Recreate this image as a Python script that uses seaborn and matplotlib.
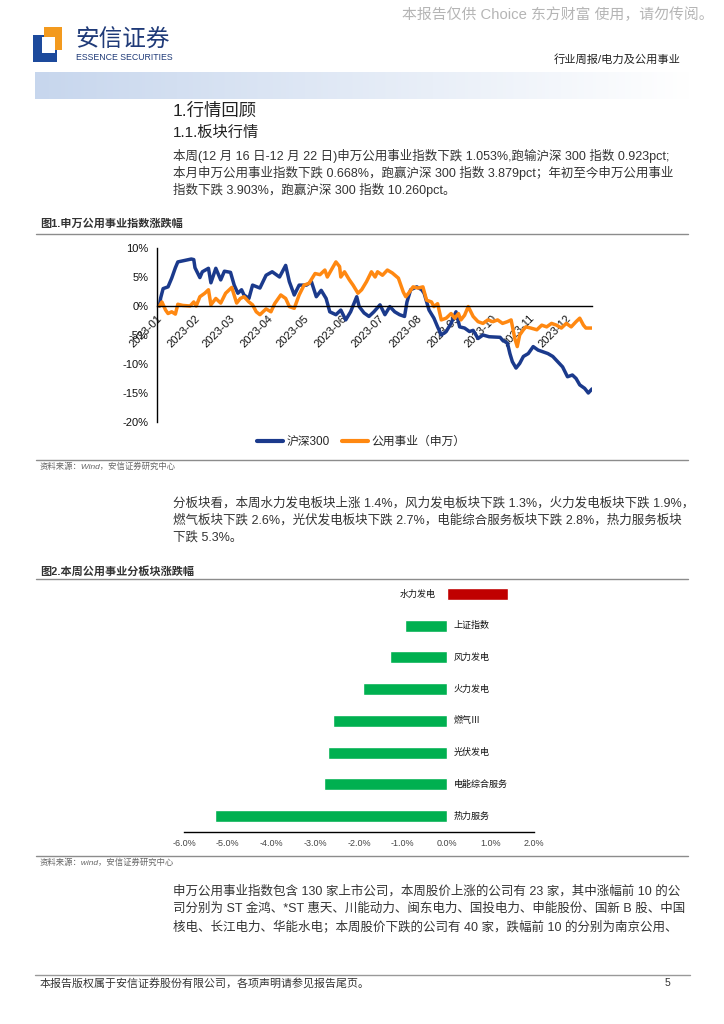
import numpy as np
import pandas as pd
import matplotlib
matplotlib.use("Agg")
import matplotlib.pyplot as plt
from matplotlib.lines import Line2D
from matplotlib.patches import Rectangle
import seaborn as sns

# ---------------- data ----------------
series_names = ["沪深300", "公用事业（申万）"]
series_colors = ["#1b3a8c", "#ff8811"]

hs300_dates = (
    ["01-03", "01-04", "01-06", "01-10", "01-13", "01-16", "01-18", "01-29", "01-31"]
    + ["02-01", "02-05", "02-07", "02-12", "02-14", "02-18", "02-22", "02-25"]
    + ["03-02", "03-05", "03-08", "03-11", "03-13", "03-17", "03-20", "03-26", "03-31"]
    + ["04-05", "04-09", "04-11", "04-16", "04-19", "04-23", "04-27"]
    + ["05-03", "05-07", "05-11", "05-15", "05-19", "05-22", "05-27", "05-31"]
    + ["06-04", "06-08", "06-13", "06-15", "06-19", "06-23", "06-27"]
    + ["07-02", "07-06", "07-10", "07-14", "07-18", "07-22", "07-24", "07-27"]
    + ["08-01", "08-05", "08-07", "08-11", "08-15", "08-18", "08-21", "08-25", "08-29"]
    + ["09-02", "09-05", "09-09", "09-13", "09-16", "09-20", "09-24", "09-29"]
    + ["10-08", "10-10", "10-14", "10-16", "10-18", "10-21", "10-24", "10-27", "10-31"]
    + ["11-04", "11-08", "11-12", "11-16", "11-20", "11-24", "11-28"]
    + ["12-02", "12-06", "12-09", "12-12", "12-16", "12-19", "12-22"]
)
hs300_values = (
    [0.0, 1.4, 3.0, 3.3, 4.8, 6.6, 7.6, 8.1, 8.0]
    + [6.6, 4.9, 5.9, 6.5, 4.0, 6.5, 4.5, 6.0]
    + [5.8, 3.6, 2.2, 2.8, 1.9, 1.3, 3.6, 3.1, 5.3]
    + [5.9, 5.3, 5.0, 7.0, 4.2, 1.9, 3.6]
    + [3.6, 4.2, 1.6, 2.7, 1.3, -1.0, -1.5, -0.7]
    + [-2.4, -1.0, 1.6, -0.1, -1.2, -1.8, -1.0]
    + [0.2, -1.5, -0.1, -1.0, -1.5, -1.8, 0.7, 2.8]
    + [3.3, 2.8, 2.2, -0.7, -2.1, -3.6, -5.0, -4.4, -3.0]
    + [-1.0, -3.6, -3.8, -4.4, -4.2, -5.6, -5.0, -5.3]
    + [-5.4, -5.9, -6.4, -8.2, -9.6, -10.7, -9.9, -8.7, -8.2]
    + [-7.0, -7.6, -7.9, -8.2, -8.7, -9.6, -10.5]
    + [-12.2, -11.9, -12.5, -13.6, -14.2, -15.0, -14.3]
)

util_dates = (
    ["01-03", "01-05", "01-08", "01-10", "01-13", "01-16", "01-18", "01-22", "01-28", "01-31"]
    + ["02-02", "02-05", "02-09", "02-12", "02-14", "02-18", "02-22", "02-26"]
    + ["03-03", "03-07", "03-10", "03-13", "03-17", "03-20", "03-23", "03-26", "03-31"]
    + ["04-04", "04-07", "04-12", "04-16", "04-19", "04-23", "04-27"]
    + ["05-01", "05-05", "05-10", "05-14", "05-18", "05-20", "05-24", "05-27", "05-30", "05-31"]
    + ["06-03", "06-07", "06-10", "06-14", "06-17", "06-21", "06-25", "06-28", "06-30"]
    + ["07-04", "07-08", "07-12", "07-17", "07-21", "07-23", "07-26", "07-29"]
    + ["08-02", "08-06", "08-09", "08-13", "08-15", "08-18", "08-21", "08-25", "08-29"]
    + ["09-01", "09-04", "09-06", "09-09", "09-12", "09-16", "09-20", "09-24", "09-28"]
    + ["10-02", "10-06", "10-10", "10-14", "10-17", "10-20", "10-22", "10-24", "10-27", "10-29"]
    + ["11-02", "11-07", "11-11", "11-15", "11-19", "11-23", "11-27"]
    + ["12-01", "12-05", "12-09", "12-12", "12-15", "12-17", "12-22"]
)
util_values = (
    [0.0, 0.7, -0.7, -1.3, -1.0, -1.4, 0.3, 0.1, 0.0, 0.7]
    + [0.0, 1.6, 2.2, 2.8, 0.2, 1.3, 0.5, 2.2]
    + [3.2, 0.5, 1.3, 1.6, 0.7, 0.2, -1.0, -1.5, -0.5]
    + [-1.0, 0.4, 1.9, 1.3, -0.1, -0.4, 1.9]
    + [3.6, 3.9, 5.6, 5.4, 6.2, 5.0, 6.5, 7.6, 6.8, 5.0]
    + [5.9, 4.5, 3.6, 2.2, 2.8, 4.2, 5.9, 5.0, 5.9]
    + [5.3, 6.2, 5.7, 4.8, 2.4, 1.6, 2.4, 3.3]
    + [3.1, 3.3, 1.0, 0.7, -0.1, 0.4, -2.4, -2.1, -1.3]
    + [-2.1, -1.3, -2.4, -1.6, -0.1, -1.8, -2.7, -3.0, -2.4]
    + [-2.7, -2.4, -3.0, -2.7, -2.4, -5.6, -7.0, -5.0, -4.1, -3.6]
    + [-3.8, -4.1, -3.3, -3.6, -3.0, -3.3, -3.8]
    + [-3.0, -3.6, -2.7, -2.1, -3.3, -3.8, -3.8]
)
line_yticks = [10, 5, 0, -5, -10, -15, -20]
month_ticks = ["2023-01", "2023-02", "2023-03", "2023-04", "2023-05", "2023-06",
               "2023-07", "2023-08", "2023-09", "2023-10", "2023-11", "2023-12"]

sector_names = ["水力发电", "上证指数", "风力发电", "火力发电", "燃气Ⅲ", "光伏发电", "电能综合服务", "热力服务"]
sector_changes = [1.4, -0.95, -1.3, -1.9, -2.6, -2.7, -2.8, -5.3]
bar_xticks = [-6, -5, -4, -3, -2, -1, 0, 1, 2]
up_color, down_color = "#c00000", "#00b050"

# ---------------- text ----------------
watermark = "本报告仅供 Choice 东方财富 使用，请勿传阅。"
company_cn = "安信证券"
company_en = "ESSENCE SECURITIES"
report_type = "行业周报/电力及公用事业"
heading1 = "1.行情回顾"
heading2 = "1.1.板块行情"
para1 = [
    "本周(12 月 16 日-12 月 22 日)申万公用事业指数下跌 1.053%,跑输沪深 300 指数 0.923pct;",
    "本月申万公用事业指数下跌 0.668%，跑赢沪深 300 指数 3.879pct；年初至今申万公用事业",
    "指数下跌 3.903%，跑赢沪深 300 指数 10.260pct。",
]
fig1_title = "图1.申万公用事业指数涨跌幅"
fig1_source = "资料来源：Wind，安信证券研究中心"
para2 = [
    "分板块看，本周水力发电板块上涨 1.4%，风力发电板块下跌 1.3%，火力发电板块下跌 1.9%，",
    "燃气板块下跌 2.6%，光伏发电板块下跌 2.7%，电能综合服务板块下跌 2.8%，热力服务板块",
    "下跌 5.3%。",
]
fig2_title = "图2.本周公用事业分板块涨跌幅"
fig2_source = "资料来源：wind，安信证券研究中心"
para3 = [
    "申万公用事业指数包含 130 家上市公司，本周股价上涨的公司有 23 家，其中涨幅前 10 的公",
    "司分别为 ST 金鸿、*ST 惠天、川能动力、闽东电力、国投电力、申能股份、国新 B 股、中国",
    "核电、长江电力、华能水电；本周股价下跌的公司有 40 家，跌幅前 10 的分别为南京公用、",
]
footer = "本报告版权属于安信证券股份有限公司，各项声明请参见报告尾页。"
page_no = "5"

# ---------------- figure ----------------
sns.set_theme(style="white")
FONTS = ["Liberation Sans", "Noto Sans CJK SC", "DejaVu Sans"]
plt.rcParams["font.family"] = FONTS
plt.rcParams["axes.unicode_minus"] = False

W, H = 724, 1024
fig = plt.figure(figsize=(W / 100, H / 100), dpi=100)
fig.patch.set_facecolor("white")


def fx(px):
    return px / W


def fy(py):
    return 1 - py / H


def ftext(x, y, s, size=8.5, color="#333333", ha="left", **kw):
    fig.text(fx(x), fy(y), s, fontsize=size, color=color, ha=ha, va="center", **kw)


def hline(y, x0=36, x1=688, color="#8c8c8c", lw=1.0):
    fig.add_artist(Line2D([fx(x0), fx(x1)], [fy(y), fy(y)], transform=fig.transFigure,
                          color=color, lw=lw))


def rect(x0, y0, x1, y1, color):
    fig.add_artist(Rectangle((fx(x0), fy(y1)), (x1 - x0) / W, (y1 - y0) / H,
                             transform=fig.transFigure, color=color, lw=0))


BODY = 9.0

# header
ftext(714, 15, watermark, size=10.7, color="#b5b5b5", ha="right")
rect(33, 35, 57, 62, "#1d4a9c")
rect(44, 27, 62, 50, "#f39a1e")
rect(42, 37, 55, 53, "white")
ftext(75, 41, company_cn, size=17, color="#1f3a78")
ftext(76, 58, company_en, size=6.3, color="#1f3a78")
ftext(681, 59, report_type, size=8.1, color="#222222", ha="right")

# gradient band
ax_band = fig.add_axes([fx(35), fy(99), 655 / W, 27 / H])
t = np.linspace(0, 1, 256)
left_rgb = np.array([0.78, 0.84, 0.93])
grad = left_rgb[None, :] * (1 - t[:, None]) + np.ones(3)[None, :] * t[:, None]
ax_band.imshow(grad[None, :, :], aspect="auto")
ax_band.axis("off")

ftext(173, 111, heading1, size=12.5, color="#222222")
ftext(173, 133, heading2, size=11, color="#222222")
for i, line in enumerate(para1):
    ftext(173, 156 + 17 * i, line, size=BODY)

ftext(40, 224, fig1_title, size=8, color="#333333", fontweight="bold")
hline(234)

# ---------------- line chart ----------------
df_line = pd.concat([
    pd.DataFrame({"date": pd.to_datetime(["2023-" + d for d in hs300_dates]),
                  "value": hs300_values, "series": series_names[0]}),
    pd.DataFrame({"date": pd.to_datetime(["2023-" + d for d in util_dates]),
                  "value": util_values, "series": series_names[1]}),
], ignore_index=True)

ax1 = fig.add_axes([fx(157), fy(422), 435 / W, 174 / H])
sns.lineplot(data=df_line, x="date", y="value", hue="series", hue_order=series_names,
             palette=dict(zip(series_names, series_colors)), linewidth=2.5,
             ax=ax1, legend=False)
# position the spine first (this resets tick objects), then style ticks
ax1.spines["bottom"].set_position(("data", 0))
for s in ["top", "right"]:
    ax1.spines[s].set_visible(False)
for s in ["bottom", "left"]:
    ax1.spines[s].set_color("black")
    ax1.spines[s].set_linewidth(1.0)
ax1.set_xlim(pd.Timestamp("2023-01-01"), pd.Timestamp("2023-12-22"))
ax1.set_ylim(-20, 10)
ax1.set_yticks(line_yticks)
ax1.set_yticklabels([f"{v}%" for v in line_yticks])
ax1.set_xticks(pd.to_datetime([m + "-01" for m in month_ticks]))
ax1.tick_params(axis="both", direction="out", length=3, width=0.8, color="black",
                labelsize=8, labelcolor="#111111", pad=2)
ax1.tick_params(axis="y", pad=3)
ax1.set_xticklabels(month_ticks, rotation=45, ha="right", rotation_mode="anchor")
ax1.set_xlabel("")
ax1.set_ylabel("")
ax1.set_facecolor("none")

handles = [Line2D([], [], color=c, lw=3) for c in series_colors]
fig.legend(handles, series_names, loc="center", bbox_to_anchor=(fx(361), fy(442)),
           ncol=2, frameon=False, fontsize=8.5, handlelength=2.2, columnspacing=1.0,
           handletextpad=0.3)

hline(460)
ftext(40, 467, fig1_source, size=6.0, color="#666666", style="italic")

for i, line in enumerate(para2):
    ftext(173, 503 + 17 * i, line, size=BODY)

ftext(40, 571, fig2_title, size=8, color="#333333", fontweight="bold")
hline(579)

# ---------------- bar chart ----------------
df_bar = pd.DataFrame({"sector": sector_names, "change": sector_changes})
bar_palette = {n: (up_color if v >= 0 else down_color) for n, v in zip(sector_names, sector_changes)}
ax2 = fig.add_axes([fx(184), fy(832), 350 / W, 254 / H])
sns.barplot(data=df_bar, x="change", y="sector", hue="sector", palette=bar_palette,
            orient="h", width=0.38, saturation=1, legend=False, ax=ax2)
ax2.set_xlim(-6, 2)
ax2.set_ylim(len(sector_names) - 0.5, -0.5)
ax2.set_xticks(bar_xticks)
ax2.set_xticklabels([f"{v:.1f}%" for v in bar_xticks])
ax2.tick_params(axis="x", direction="out", length=3, width=0.8, color="black",
                labelsize=6.5, labelcolor="#444444", pad=2)
ax2.tick_params(axis="y", left=False, labelleft=False)
for s in ["top", "right", "left"]:
    ax2.spines[s].set_visible(False)
ax2.spines["bottom"].set_color("black")
ax2.spines["bottom"].set_linewidth(1.0)
ax2.set_xlabel("")
ax2.set_ylabel("")
ax2.set_facecolor("none")
for i, (name, v) in enumerate(zip(sector_names, sector_changes)):
    if v >= 0:
        ax2.annotate(name, xy=(0, i), xytext=(-11, 0), textcoords="offset pixels",
                     ha="right", va="center", fontsize=6.5, color="#111111")
    else:
        ax2.annotate(name, xy=(0, i), xytext=(7, 0), textcoords="offset pixels",
                     ha="left", va="center", fontsize=6.5, color="#111111")

hline(856)
ftext(40, 863, fig2_source, size=6.0, color="#666666", style="italic")

for i, line in enumerate(para3):
    ftext(173, 891 + 18 * i, line, size=BODY)

hline(975, x0=35, x1=690, color="#999999")
ftext(40, 983, footer, size=7.9, color="#333333")
ftext(670, 983, page_no, size=7.5, color="#333333", ha="right")

fig.savefig("out.png", dpi=100, facecolor="white")
